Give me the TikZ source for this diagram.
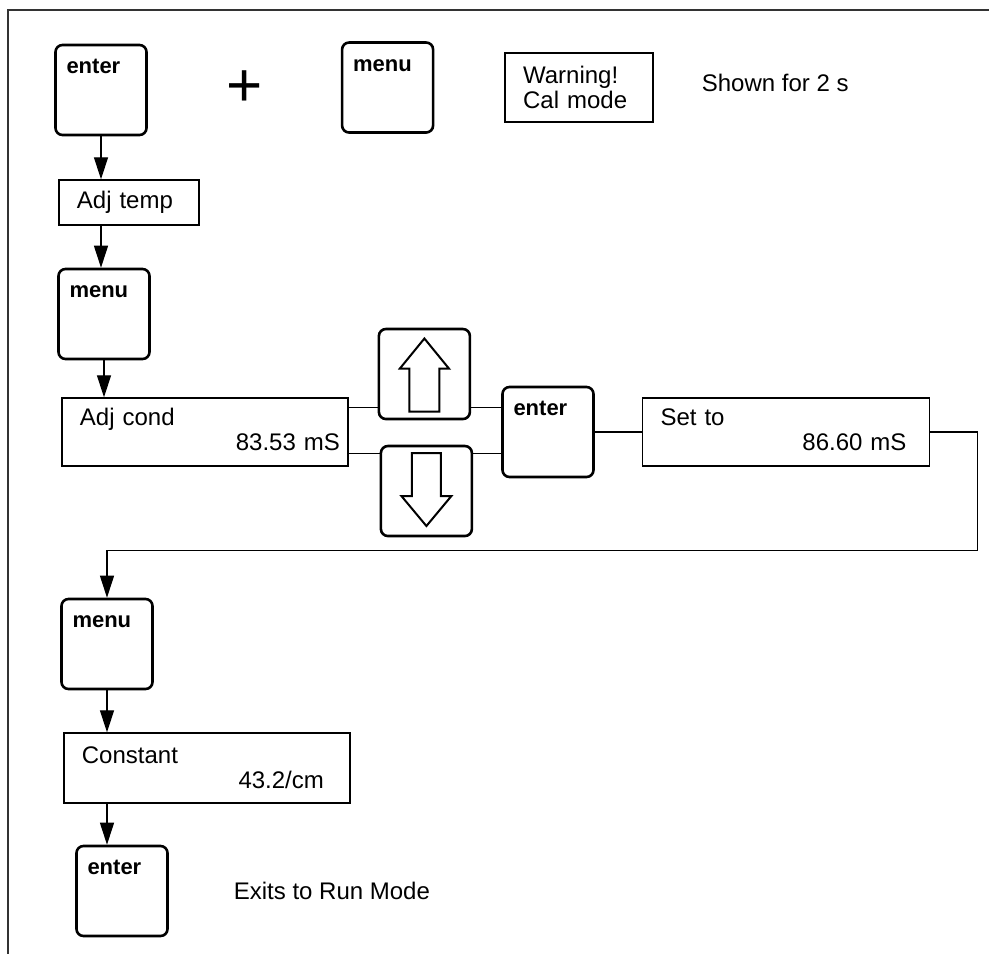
\documentclass[tikz,border=0pt]{standalone}
\usepackage{fontspec}
\setmainfont{Liberation Sans}
\usetikzlibrary{calc, arrows.meta, positioning}

\begin{document}
\begin{tikzpicture}[>={Triangle[length=11pt, width=7pt]}, font=\fontsize{12}{12.5}\selectfont,
  keybox/.style={draw, rounded corners=3.5pt, line width=1.3pt, align=left, text width=34.5pt, inner xsep=5.5pt, inner ysep=0pt, text height=14.4pt, text depth=30.6pt, font=\bfseries\fontsize{11}{11}\selectfont},
  display/.style={draw, line width=0.7pt, align=left, inner xsep=9pt, inner ysep=0pt},
  link/.style={line width=0.6pt}]
\useasboundingbox (0,0) rectangle (494.5pt,-477pt);
\draw[line width=1pt, black!80] (494.5pt,-5pt) -- (4pt,-5pt) -- (4pt,-477pt);
% entering calibration
\node[keybox] (enter1) at (50.5pt,-45pt) {enter};
\node[keybox, right=96.5pt of enter1, yshift=1.25pt] (menu1) {menu};
\node[font=\fontsize{31}{31}\selectfont] (plus) at ($(enter1)!0.5!(menu1)$) {+};
\node[display, text width=56pt, text height=15.3pt, text depth=19.2pt, right=35pt of menu1] (warn) {Warning!\\Cal mode};
\node[right=20.5pt of warn, yshift=2.25pt] (shown) {Shown for 2 s};
\node[display, text width=52pt, minimum height=22.5pt, below right=21.5pt and 2pt of enter1.south west] (adjtemp) {Adj temp};
\node[keybox, below right=21pt and -0.5pt of adjtemp.south west] (menu2) {menu};
\node[display, text width=125pt, text height=13.8pt, text depth=20.2pt, below right=18.5pt and 2pt of menu2.south west] (adjcond) {Adj cond\\\mbox{}\hfill 83.53 mS\hspace*{-5pt}\mbox{}};
% up / down and confirm
\node[keybox, above right=-11.5pt and 14.5pt of adjcond.north east] (up) {};
\node[keybox, below right=-11pt and 15.5pt of adjcond.south east] (down) {};
\node[keybox, anchor=west] (enter3) at ($(up.east |- adjcond.east)+(15pt,0)$) {enter};
\node[display, text width=125.5pt, text height=13.8pt, text depth=20.2pt, right=23.5pt of enter3] (setto) {Set to\\\mbox{}\hfill 86.60 mS\hspace*{2.5pt}\mbox{}};
\draw[line width=1pt, shift={(up.center)}] (0,17.75pt) -- (12.25pt,2.75pt) -- (7.5pt,2.75pt) -- (7.5pt,-18.75pt) -- (-7.5pt,-18.75pt) -- (-7.5pt,2.75pt) -- (-12.25pt,2.75pt) -- cycle;
\draw[line width=1pt, shift={(down.center)}] (0,-17.5pt) -- (12.5pt,-2.5pt) -- (7.25pt,-2.5pt) -- (7.25pt,19pt) -- (-7.25pt,19pt) -- (-7.25pt,-2.5pt) -- (-12.5pt,-2.5pt) -- cycle;
% cell constant and exit
\node[keybox, below right=65.5pt and -0.5pt of adjcond.south west] (menu3) {menu};
\node[display, text width=125pt, text height=15.3pt, text depth=19.7pt, below right=21pt and 1.5pt of menu3.south west] (const) {Constant\\\mbox{}\hfill 43.2/cm\hspace*{4pt}\mbox{}};
\node[keybox, below right=20.5pt and 6pt of const.south west] (enter4) {enter};
\node[right=29pt of enter4] (exits) {Exits to Run Mode};
\coordinate (hi) at ([yshift=-5pt]adjcond.north east);
\coordinate (lo) at ([yshift=6.5pt]adjcond.south east);
\coordinate[right=23.5pt of setto] (loopr);
\coordinate[below=6.5pt of down] (loopb);
\draw[link, ->] (enter1) -- (enter1 |- adjtemp.north);
\draw[link, ->] (adjtemp.south -| enter1) -- (enter1 |- menu2.north);
\draw[link, ->] (menu2) -- (menu2 |- adjcond.north);
\draw[link] (hi) -- (hi -| up.west) (hi -| up.east) -- (hi -| enter3.west);
\draw[link] (lo) -- (lo -| down.west) (lo -| down.east) -- (lo -| enter3.west);
\draw[link] (enter3) -- (setto);
\draw[link, ->] (setto) -- (loopr) |- (loopb) -| (menu3);
\draw[link, ->] (menu3) -- (menu3 |- const.north);
\draw[link, ->] (const.south -| menu3) -- (menu3 |- enter4.north);
\end{tikzpicture}
\end{document}
